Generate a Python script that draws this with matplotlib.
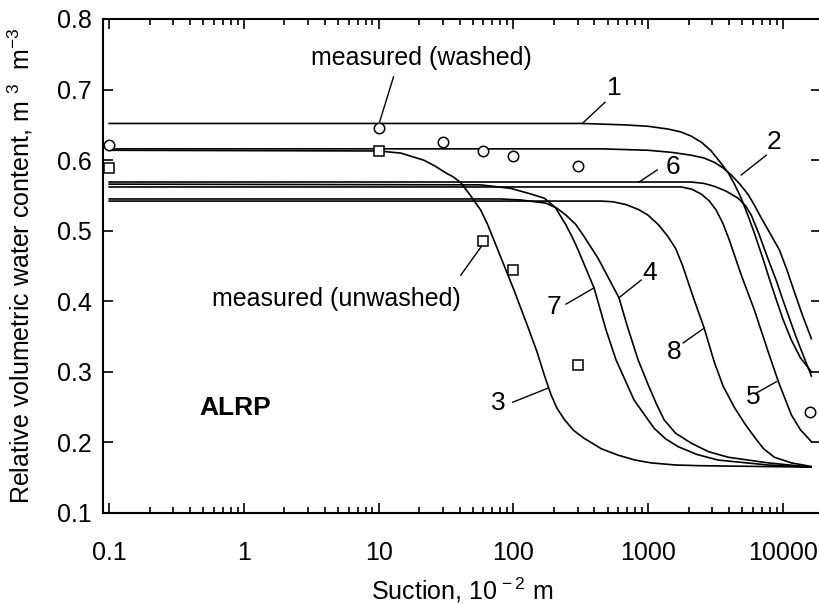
import matplotlib
matplotlib.use('Agg')
import matplotlib.pyplot as plt
from matplotlib.ticker import LogLocator, FixedLocator, FixedFormatter, NullFormatter

plt.rcParams['font.family'] = ['Liberation Sans', 'DejaVu Sans']
plt.rcParams['mathtext.fontset'] = 'custom'
plt.rcParams['mathtext.rm'] = 'Liberation Sans'
plt.rcParams['mathtext.it'] = 'Liberation Sans:italic'
plt.rcParams['mathtext.bf'] = 'Liberation Sans:bold'

# fitted retention curves (suction in 10^-2 m, water content in m3 m-3)
curve1_x = [0.1, 318, 664, 1000, 1410, 1750, 2090, 2500, 2940, 3400, 3936, 4400, 4911, 5500,
            6140, 7160, 8000, 8950, 10000, 11570, 13500, 16300]
curve1_y = [0.652, 0.652, 0.650, 0.648, 0.644, 0.640, 0.634, 0.625, 0.613, 0.598, 0.582, 0.565,
            0.546, 0.522, 0.497, 0.459, 0.430, 0.402, 0.375, 0.345, 0.320, 0.300]

curve2_x = [0.1, 448, 1000, 1500, 2090, 2600, 3097, 3600, 4140, 4800, 5540, 6200, 6920, 8000,
            9420, 10700, 12190, 14000, 16300]
curve2_y = [0.616, 0.616, 0.614, 0.611, 0.607, 0.603, 0.597, 0.589, 0.579, 0.566, 0.551, 0.535,
            0.518, 0.497, 0.473, 0.445, 0.413, 0.380, 0.347]

curve3_x = [0.1, 10, 14.6, 21.6, 26, 31.5, 36, 40.7, 48, 57.3, 64, 71.6, 101, 128, 150, 170, 190,
            210, 240, 280, 334, 450, 598, 800, 1052, 1600, 2477, 16200]
curve3_y = [0.614, 0.613, 0.610, 0.600, 0.592, 0.582, 0.576, 0.568, 0.550, 0.529, 0.510, 0.487,
            0.416, 0.364, 0.328, 0.295, 0.268, 0.249, 0.232, 0.217, 0.206, 0.191, 0.182, 0.175,
            0.171, 0.168, 0.167, 0.165]

curve4_x = [0.1, 80, 114, 175, 210, 246, 290, 329, 425, 608, 700, 843, 1000, 1150, 1315, 1600,
            2090, 2800, 3936, 7800, 16200]
curve4_y = [0.545, 0.545, 0.5435, 0.539, 0.532, 0.522, 0.509, 0.494, 0.461, 0.405, 0.365, 0.317,
            0.282, 0.255, 0.232, 0.213, 0.199, 0.187, 0.179, 0.171, 0.165]

curve5_x = [0.1, 1760, 2100, 2477, 2850, 3205, 3600, 4003, 4918, 6140, 7800, 9270, 11570, 13500,
            16300]
curve5_y = [0.562, 0.562, 0.559, 0.552, 0.542, 0.529, 0.510, 0.487, 0.437, 0.388, 0.328, 0.286,
            0.239, 0.218, 0.201]

curve6_x = [0.1, 2090, 2600, 3097, 3800, 4667, 5300, 5834, 6690, 7800, 9000, 10000, 12500, 16300]
curve6_y = [0.569, 0.569, 0.567, 0.563, 0.556, 0.546, 0.535, 0.522, 0.494, 0.459, 0.428, 0.402,
            0.350, 0.294]

curve7_x = [0.1, 57, 95.7, 135, 170, 205, 225, 246, 275, 302, 397, 488, 578, 680, 787, 950, 1109,
            1350, 1671, 2300, 3314, 7800, 16200]
curve7_y = [0.566, 0.565, 0.560, 0.552, 0.546, 0.533, 0.520, 0.508, 0.490, 0.473, 0.419, 0.359,
            0.317, 0.287, 0.260, 0.238, 0.220, 0.205, 0.194, 0.183, 0.175, 0.168, 0.165]

curve8_x = [0.1, 448, 550, 686, 850, 1000, 1200, 1400, 1600, 1800, 2000, 2198, 2608, 3097, 3600,
            4357, 5200, 6140, 7200, 8650, 11570, 16200]
curve8_y = [0.542, 0.542, 0.541, 0.537, 0.530, 0.522, 0.508, 0.492, 0.475, 0.451, 0.425, 0.402,
            0.362, 0.314, 0.280, 0.250, 0.227, 0.208, 0.191, 0.179, 0.171, 0.166]

# measured points
washed_x = [0.1, 10, 30, 60, 100, 300, 16000]
washed_y = [0.622, 0.645, 0.626, 0.613, 0.606, 0.591, 0.243]
unwashed_x = [0.1, 10, 60, 100, 300]
unwashed_y = [0.589, 0.613, 0.485, 0.444, 0.310]

x_ticks = [0.1, 1, 10, 100, 1000, 10000]
x_tick_labels = ['0.1', '1', '10', '100', '1000', '10000']
y_ticks = [0.1, 0.2, 0.3, 0.4, 0.5, 0.6, 0.7, 0.8]
y_tick_labels = ['0.1', '0.2', '0.3', '0.4', '0.5', '0.6', '0.7', '0.8']

fig = plt.figure(figsize=(8.2, 6.04), dpi=100)
ax = fig.add_axes([103 / 820, 91 / 604, 718 / 820, 494 / 604])

for cx, cy in [(curve1_x, curve1_y), (curve2_x, curve2_y), (curve3_x, curve3_y),
               (curve4_x, curve4_y), (curve5_x, curve5_y), (curve6_x, curve6_y),
               (curve7_x, curve7_y), (curve8_x, curve8_y)]:
    ax.plot(cx, cy, color='black', lw=1.2, solid_joinstyle='round')

ax.plot(washed_x, washed_y, 'o', ms=7.5, mfc='white', mec='black', mew=1.1, clip_on=False)
ax.plot(unwashed_x, unwashed_y, 's', ms=6.5, mfc='white', mec='black', mew=1.1, clip_on=False)

ax.set_xscale('log')
ax.set_xlim(0.09, 19200)
ax.set_ylim(0.1, 0.8)

ax.xaxis.set_major_locator(FixedLocator(x_ticks))
ax.xaxis.set_major_formatter(FixedFormatter(x_tick_labels))
ax.xaxis.set_minor_locator(LogLocator(base=10, subs=range(2, 10), numticks=20))
ax.xaxis.set_minor_formatter(NullFormatter())
ax.yaxis.set_major_locator(FixedLocator(y_ticks))
ax.yaxis.set_major_formatter(FixedFormatter(y_tick_labels))

ax.tick_params(which='both', direction='in', top=True, right=True, labelsize=18, width=1.2)
ax.tick_params(which='major', length=7)
ax.tick_params(which='minor', length=4)
ax.tick_params(axis='x', which='major', pad=20)
ax.tick_params(axis='y', which='major', pad=8)
for s in ax.spines.values():
    s.set_linewidth(1.5)

ax.set_xlabel('Suction, 10$^{\\,-2}$ m', fontsize=18, labelpad=8)
ax.set_ylabel('Relative volumetric water content, m $^{3}$  m$^{-3}$', fontsize=18, labelpad=16)

# curve numbers with leader lines
labels = [
    ('1', 558, 0.702, (479, 0.682), (329, 0.653)),
    ('2', 8650, 0.626, (7540, 0.607), (4910, 0.579)),
    ('6', 1535, 0.590, (1167, 0.586), (857, 0.569)),
    ('4', 1035, 0.440, (887, 0.430), (608, 0.405)),
    ('7', 200, 0.392, (246, 0.396), (397, 0.419)),
    ('8', 1560, 0.328, (1820, 0.341), (2608, 0.362)),
    ('5', 6040, 0.264, (6360, 0.270), (8950, 0.286)),
    ('3', 76.7, 0.256, (99, 0.257), (181, 0.277)),
]
for txt, tx, ty, p0, p1 in labels:
    ax.text(tx, ty, txt, fontsize=19, ha='center', va='center')
    ax.plot([p0[0], p1[0]], [p0[1], p1[1]], color='black', lw=1.0)

ax.text(20.9, 0.745, 'measured (washed)', fontsize=18, ha='center', va='center')
ax.plot([12.9, 10.2], [0.718, 0.655], color='black', lw=1.0)
ax.text(4.88, 0.403, 'measured (unwashed)', fontsize=18, ha='center', va='center')
ax.plot([40.7, 58.0], [0.437, 0.478], color='black', lw=1.0)

ax.text(0.865, 0.249, 'ALRP', fontsize=19, fontweight='bold', ha='center', va='center')

fig.savefig('out.png', dpi=100)
